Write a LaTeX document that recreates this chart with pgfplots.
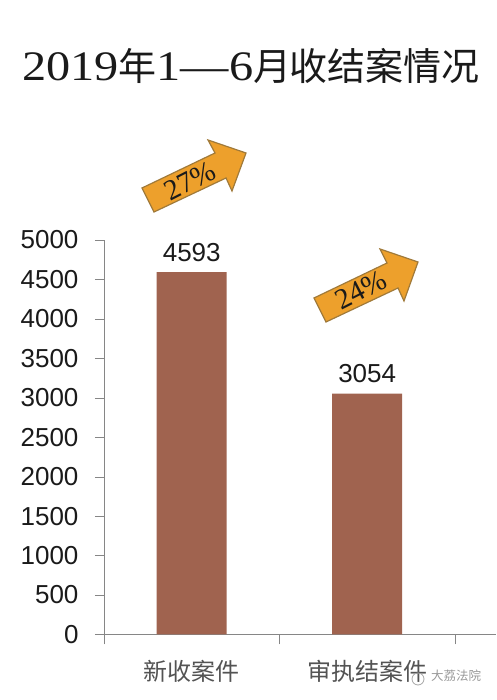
\documentclass[border=0pt]{standalone}
\usepackage{fontspec}
\usepackage{pgfplots}
\pgfplotsset{compat=1.18}
\setmainfont{Liberation Sans}
\newfontfamily\cjk{Noto Sans CJK SC}
\newfontfamily\serif{Liberation Serif}
\newfontfamily\serifwide[FakeStretch=1.15]{Liberation Serif}
\definecolor{barcol}{HTML}{A0634F}
\definecolor{axiscol}{HTML}{868686}
\definecolor{arrowfill}{HTML}{EDA02C}
\definecolor{arrowline}{HTML}{A07A3A}
\definecolor{txt}{HTML}{1A1A1A}
\newcommand{\titlelatin}{\fontsize{42}{42}\selectfont\serifwide}
\newcommand{\titlecjk}{\fontsize{38}{38}\selectfont\cjk}
\begin{document}
\begin{tikzpicture}[x=1pt,y=1pt]
\useasboundingbox (0,0) rectangle (496,700);
\begin{axis}[
    at={(104pt,65.5pt)}, anchor=south west,
    scale only axis,
    width=392pt, height=394.5pt,
    xmin=0, xmax=2.234,
    ymin=0, ymax=5000,
    axis x line*=bottom,
    axis y line*=left,
    axis line style={axiscol,-},
    xtick={0.5,1.5},
    xticklabels={{\cjk 新收案件},{\cjk 审执结案件}},
    minor xtick={0,1,2},
    major x tick style={draw=none},
    minor x tick style={axiscol},
    minor tick length=10pt,
    xticklabel style={font=\fontsize{24}{24}\selectfont, text=txt!75, yshift=-13pt},
    ytick={0,500,...,5000},
    tick align=outside,
    major tick length=9pt,
    y tick style={axiscol},
    yticklabel style={font=\fontsize{26}{26}\selectfont, text=txt, xshift=-13pt},
    /pgf/number format/assume math mode=true,
    /pgf/number format/.cd, 1000 sep={},
]
\addplot[ybar, bar width=70pt, bar shift=0pt, fill=barcol, draw=none,
    nodes near coords,
    every node near coord/.append style={font=\fontsize{26}{26}\selectfont, text=txt, yshift=7pt}]
coordinates {(0.5,4593) (1.5,3054)};
\end{axis}
% the rest is placed in pixels of the reference, y downwards
\begin{scope}[shift={(0,700)}, y=-1pt]
\node[anchor=base west, text=txt, inner sep=0pt] at (22,80.5)
    {\titlelatin 2019\titlecjk 年\titlelatin 1—6\titlecjk 月\hspace{-2pt}收结案情况};
\filldraw[fill=arrowfill, draw=arrowline, line width=1.2pt, line join=miter]
    (142,188) -- (215,153) -- (208,140) -- (246,153) -- (232,191) -- (226,178) -- (154,212) -- cycle;
\filldraw[fill=arrowfill, draw=arrowline, line width=1.2pt, line join=miter]
    (314,298) -- (387,263) -- (380,249) -- (418,262) -- (404,301) -- (398,288) -- (326,322) -- cycle;
\node[rotate=27, text=txt, font=\fontsize{29}{29}\selectfont] at (190,181) {\serif 27\%};
\node[rotate=27, text=txt, font=\fontsize{29}{29}\selectfont] at (361,290) {\serif 24\%};
\node[anchor=base, text=gray!80, font=\fontsize{12.5}{12.5}\selectfont] at (456,681) {\cjk 大荔法院};
\draw[gray!70, line width=0.8pt] (418,679) circle (6);
\end{scope}
\end{tikzpicture}
\end{document}
